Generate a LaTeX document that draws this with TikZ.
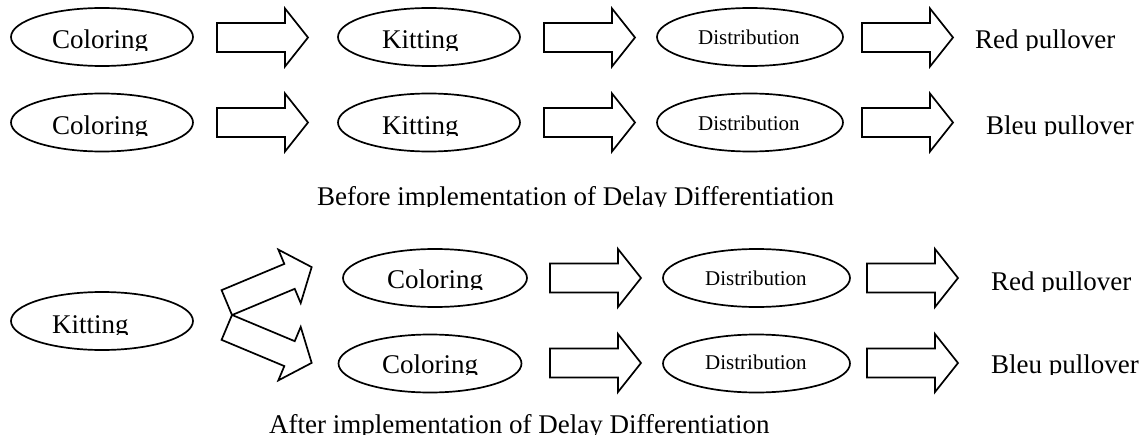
\documentclass[tikz,border=0pt]{standalone}
\usepackage{fontspec}
\setmainfont{Liberation Serif}
\usetikzlibrary{shapes.geometric}
\newcommand\cliptxt[5]{%
  \begin{scope}
    \clip ({#3-5},{#4-40}) rectangle ({#3+700},{#4+1.5});
    \node[#1] (#2) at (#3,#4) {#5};
  \end{scope}}
\begin{document}
\begin{tikzpicture}[x=1pt,y=-1pt,
  oval/.style={draw, line width=1.7pt, ellipse, minimum width=#1, minimum height=58pt, inner sep=0pt},
  oval/.default=182pt,
  txt/.style={inner sep=0pt, anchor=base west, font=\fontsize{27}{30}\selectfont},
  smalltxt/.style={inner sep=0pt, anchor=base west, font=\fontsize{21}{24}\selectfont},
  harrow/.pic={\draw[line width=1.7pt, line join=miter]
     (0,-14.5) -- (68,-14.5) -- (68,-29) -- (91,0) -- (68,29) -- (68,14.5) -- (0,14.5) -- cycle;},
  barrow/.pic={\draw[line width=1.7pt, line join=miter]
     (0,-13.5) -- (68,-13.5) -- (68,-29) -- (92,0) -- (68,29) -- (68,13.5) -- (0,13.5) -- cycle;}
]
\useasboundingbox (0,0) rectangle (1141,436);

% ---- Before: row 1
\node[oval=182pt] (c1) at (102,37) {};
\node[oval=182pt] (k1) at (429,37) {};
\node[oval=186pt] (d1) at (750,37) {};
\pic (a11) at (217,37.5) {harrow};
\pic (a12) at (544,37.5) {harrow};
\pic (a13) at (862,37.5) {harrow};
\cliptxt{txt}{tc1}{52}{49}{Coloring}
\cliptxt{txt}{tk1}{382}{49}{Kitting}
\cliptxt{smalltxt}{td1}{698}{45}{Distribution}
\cliptxt{txt}{tr1}{975}{49}{Red pullover}

% ---- Before: row 2
\node[oval=182pt] (c2) at (102,122.5) {};
\node[oval=182pt] (k2) at (429,122.5) {};
\node[oval=186pt] (d2) at (750,122.5) {};
\pic (a21) at (217,122.5) {harrow};
\pic (a22) at (544,122.5) {harrow};
\pic (a23) at (862,122.5) {harrow};
\cliptxt{txt}{tc2}{52}{134}{Coloring}
\cliptxt{txt}{tk2}{382}{134}{Kitting}
\cliptxt{smalltxt}{td2}{698}{130}{Distribution}
\cliptxt{txt}{tb2}{986}{134}{Bleu pullover}

\cliptxt{txt}{cap1}{317}{205}{Before implementation of Delay Differentiation}

% ---- After
\node[oval=182pt] (kl) at (102,321) {};
\pic (bu) [rotate=22.7] at (226.8,302.6) {barrow};
\pic (bl) [rotate=-22.7] at (226.8,327.4) {barrow};
\node[oval=184pt] (cu) at (435,278) {};
\node[oval=183pt] (cl) at (430,363.5) {};
\node[oval=187pt] (du) at (756.5,278) {};
\node[oval=187pt] (dl) at (756.5,363.5) {};
\pic (a31) at (550,278) {harrow};
\pic (a32) at (867,278) {harrow};
\pic (a41) at (550,363) {harrow};
\pic (a42) at (867,363) {harrow};
\cliptxt{txt}{tkl}{52}{333}{Kitting}
\cliptxt{txt}{tcu}{387}{288}{Coloring}
\cliptxt{txt}{tcl}{382}{373}{Coloring}
\cliptxt{smalltxt}{tdu}{705}{285}{Distribution}
\cliptxt{smalltxt}{tdl}{705}{369}{Distribution}
\cliptxt{txt}{tru}{991}{290}{Red pullover}
\cliptxt{txt}{tbl}{991}{373}{Bleu pullover}

\cliptxt{txt}{cap2}{269}{433}{After implementation of Delay Differentiation}
\end{tikzpicture}
\end{document}
